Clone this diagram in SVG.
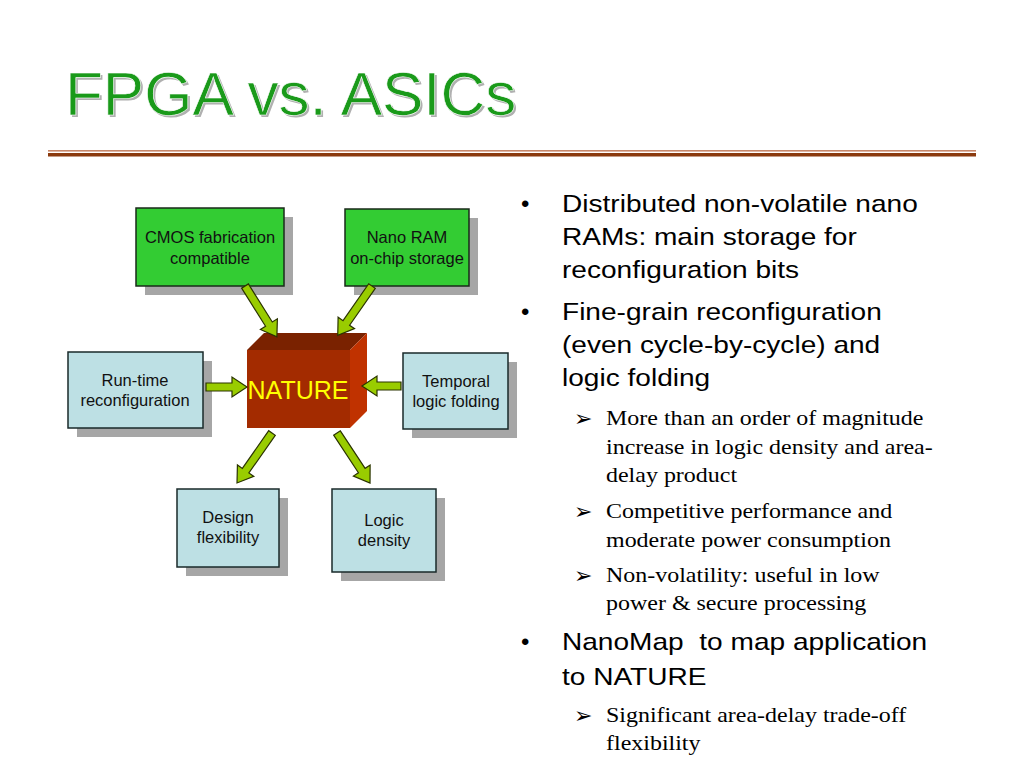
<svg xmlns="http://www.w3.org/2000/svg" width="1024" height="768" viewBox="0 0 1024 768">
<defs>
<style>
.shadow{fill:#a6a6a6}
.green{fill:#33cc33;stroke:#1a2a1a;stroke-width:1.5}
.blue{fill:#bde0e4;stroke:#1a2a2a;stroke-width:1.5}
.lbl{font-family:"Liberation Sans",Arial,sans-serif;font-size:16.5px;fill:#111;text-anchor:middle}
.arr{fill:#99cc00;stroke:#2a3300;stroke-width:1.2;stroke-linejoin:miter}
.main{font-family:"Liberation Sans",Arial,sans-serif;font-size:24px;fill:#000}
.sub{font-family:"Liberation Serif","Times New Roman",serif;font-size:22px;fill:#000}
.sym{font-family:"DejaVu Sans",sans-serif;font-size:22px;fill:#000}
</style>
</defs>
<rect width="1024" height="768" fill="#fff"/>
<g id="title">
<text x="67" y="117" font-family="Liberation Sans,Arial,sans-serif" font-size="62" fill="#b0b0b0">FPGA vs. ASICs</text>
<text x="65" y="115" font-family="Liberation Sans,Arial,sans-serif" font-size="62" fill="#1a9a1a" stroke="#fff" stroke-width="0.6">FPGA vs. ASICs</text>
</g>
<g id="rule">
<rect x="48" y="150" width="928" height="1.6" fill="#c8876a"/>
<rect x="48" y="153" width="928" height="3.5" fill="#8b3a0e"/>
</g>
<g id="node-cmos">
<rect class="shadow" x="145" y="217" width="148" height="78"/>
<rect class="green" x="136" y="208" width="148" height="78"/>
<text class="lbl" x="210" y="243">CMOS fabrication</text>
<text class="lbl" x="210" y="264">compatible</text>
</g>
<g id="node-nanoram">
<rect class="shadow" x="354" y="218" width="124" height="77"/>
<rect class="green" x="345" y="209" width="124" height="77"/>
<text class="lbl" x="407" y="243">Nano RAM</text>
<text class="lbl" x="407" y="264">on-chip storage</text>
</g>
<g id="node-runtime">
<rect class="shadow" x="77" y="361" width="135" height="76"/>
<rect class="blue" x="68" y="352" width="135" height="76"/>
<text class="lbl" x="135" y="386">Run-time</text>
<text class="lbl" x="135" y="406">reconfiguration</text>
</g>
<g id="node-temporal">
<rect class="shadow" x="412" y="362" width="105" height="76"/>
<rect class="blue" x="403" y="353" width="105" height="76"/>
<text class="lbl" x="456" y="387">Temporal</text>
<text class="lbl" x="456" y="407">logic folding</text>
</g>
<g id="node-design">
<rect class="shadow" x="186" y="498" width="102" height="78"/>
<rect class="blue" x="177" y="489" width="102" height="78"/>
<text class="lbl" x="228" y="523">Design</text>
<text class="lbl" x="228" y="543">flexibility</text>
</g>
<g id="node-logic">
<rect class="shadow" x="341" y="498" width="104" height="83"/>
<rect class="blue" x="332" y="489" width="104" height="83"/>
<text class="lbl" x="384" y="526">Logic</text>
<text class="lbl" x="384" y="546">density</text>
</g>
<g id="node-nature">
<polygon points="247,350 264,333 367,333 350,350" fill="#7a2200"/>
<polygon points="350,350 367,333 367,411 350,428" fill="#c03200"/>
<rect x="247" y="350" width="103" height="78" fill="#a32b00"/>
<text x="298" y="399" font-family="Liberation Sans,Arial,sans-serif" font-size="25" fill="#ffff00" text-anchor="middle">NATURE</text>
</g>
<g id="connectors">
<path class="arr" transform="translate(245,286) rotate(57.9)" d="M0,-4 L45,-4 L45,-10 L60,0 L45,10 L45,4 L0,4 Z"/>
<path class="arr" transform="translate(372,286) rotate(124.8)" d="M0,-4 L45,-4 L45,-10 L60,0 L45,10 L45,4 L0,4 Z"/>
<path class="arr" transform="translate(206,387)" d="M0,-4 L26,-4 L26,-10 L41,0 L26,10 L26,4 L0,4 Z"/>
<path class="arr" transform="translate(401,386) rotate(180)" d="M0,-4 L24,-4 L24,-10 L39,0 L24,10 L24,4 L0,4 Z"/>
<path class="arr" transform="translate(272,433) rotate(125)" d="M0,-4 L46,-4 L46,-10 L61,0 L46,10 L46,4 L0,4 Z"/>
<path class="arr" transform="translate(337,433) rotate(56.6)" d="M0,-4 L45,-4 L45,-10 L60,0 L45,10 L45,4 L0,4 Z"/>
</g>
<g id="bullets">
<text class="main" x="521" y="212">•</text>
<text class="main" x="521" y="320">•</text>
<text class="main" x="521" y="650">•</text>
<text class="sym" x="574" y="426">➢</text>
<text class="sym" x="574" y="519">➢</text>
<text class="sym" x="574" y="583">➢</text>
<text class="sym" x="574" y="723">➢</text>
</g>
<g id="main-text" transform="matrix(1.17,0,0,1,-95.54,0)">
<text class="main" x="562" y="212">Distributed non-volatile nano</text>
<text class="main" x="562" y="245">RAMs: main storage for</text>
<text class="main" x="562" y="278">reconfiguration bits</text>
<text class="main" x="562" y="320">Fine-grain reconfiguration</text>
<text class="main" x="562" y="353">(even cycle-by-cycle) and</text>
<text class="main" x="562" y="386">logic folding</text>
<text class="main" x="562" y="650">NanoMap&#160; to map application</text>
<text class="main" x="562" y="685">to NATURE</text>
</g>
<g id="sub-text" transform="matrix(1.09,0,0,1,-54.54,0)">
<text class="sub" x="606" y="425">More than an order of magnitude</text>
<text class="sub" x="606" y="454">increase in logic density and area-</text>
<text class="sub" x="606" y="482">delay product</text>
<text class="sub" x="606" y="518">Competitive performance and</text>
<text class="sub" x="606" y="547">moderate power consumption</text>
<text class="sub" x="606" y="582">Non-volatility: useful in low</text>
<text class="sub" x="606" y="610">power &amp; secure processing</text>
<text class="sub" x="606" y="722">Significant area-delay trade-off</text>
<text class="sub" x="606" y="750">flexibility</text>
</g>
</svg>
